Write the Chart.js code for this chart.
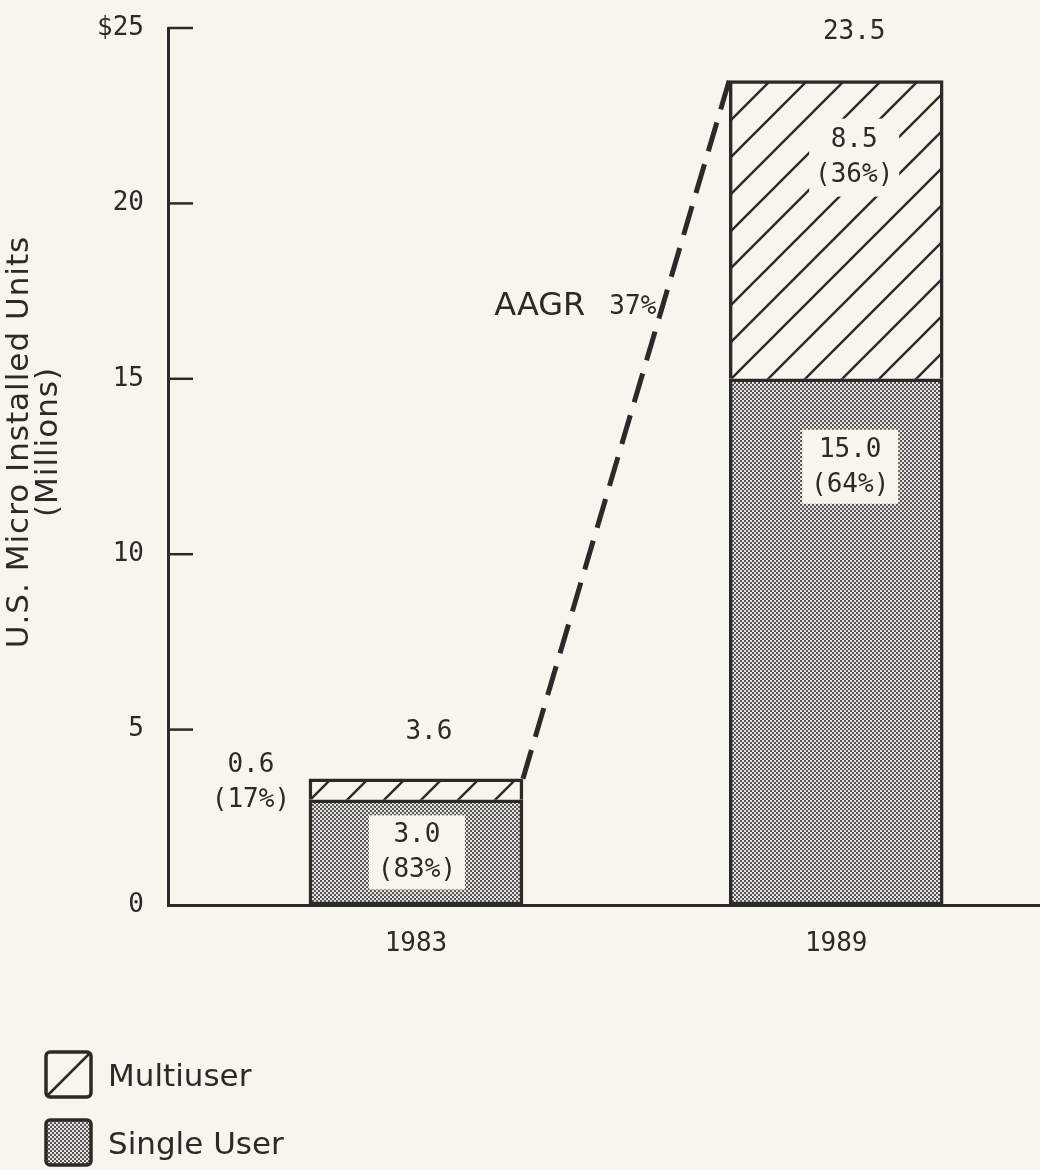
<!DOCTYPE html>
<html>
<head>
<meta charset="utf-8">
<script src="https://cdn.jsdelivr.net/npm/chart.js@4/dist/chart.umd.min.js"></script>
<style>
  html, body { margin: 0; padding: 0; background: #f8f5ec; }
  canvas { display: block; }
</style>
</head>
<body>
<canvas id="grafico" width="1040" height="1170"></canvas>
<script>
const years = [1983, 1989];
const singleUser = [3.0, 15.0];
const multiUser = [0.6, 8.5];
const totals = ['3.6', '23.5'];
const singleShare = ['(83%)', '(64%)'];
const multiShare = ['(17%)', '(36%)'];
const yTicks = [0, 5, 10, 15, 20, 25];
const growthWord = 'AAGR';
const growthRate = '37%';

const ink = '#2a2a2a';
const paper = '#f8f5ec';
const mono = '"DejaVu Sans Mono", monospace';
const sans = '"DejaVu Sans", sans-serif';

let canvas = document.getElementById('grafico');
let ctx = canvas.getContext('2d');

// diagonal hatch for multiuser
function makeHatch() {
  const c = document.createElement('canvas');
  c.width = 37; c.height = 37;
  const g = c.getContext('2d');
  g.fillStyle = paper;
  g.fillRect(0, 0, 37, 37);
  g.strokeStyle = ink;
  g.lineWidth = 2.4;
  g.beginPath();
  g.moveTo(-5, 42); g.lineTo(42, -5);
  g.moveTo(-5, 5); g.lineTo(5, -5);
  g.moveTo(32, 42); g.lineTo(42, 32);
  g.stroke();
  return ctx.createPattern(c, 'repeat');
}

// fine stipple for single user
function makeStipple() {
  const c = document.createElement('canvas');
  c.width = 4; c.height = 4;
  const g = c.getContext('2d');
  g.fillStyle = '#e8e5de';
  g.fillRect(0, 0, 4, 4);
  g.fillStyle = '#555555';
  g.fillRect(0, 0, 2, 2);
  g.fillRect(2, 2, 2, 2);
  return ctx.createPattern(c, 'repeat');
}

const hatch = makeHatch();
const stipple = makeStipple();

function labelBox(c, cx, cy, lines, w, h, fill) {
  if (fill) {
    c.fillStyle = paper;
    c.fillRect(cx - w / 2, cy - h / 2, w, h);
  }
  c.fillStyle = ink;
  c.textAlign = 'center';
  c.textBaseline = 'middle';
  c.font = '26px ' + mono;
  c.fillText(lines[0], cx, cy - 17);
  c.fillText(lines[1], cx, cy + 18);
}

const extras = {
  id: 'extras',
  afterDatasetsDraw(chart) {
    const c = chart.ctx;
    const yS = chart.scales.y;
    const area = chart.chartArea;
    const single = chart.getDatasetMeta(0).data;
    const multi = chart.getDatasetMeta(1).data;
    c.save();

    // y tick marks on the inner side of the axis
    c.strokeStyle = ink;
    c.lineWidth = 2.5;
    yTicks.forEach(v => {
      if (v === 0) return;
      const y = yS.getPixelForValue(v);
      c.beginPath();
      c.moveTo(area.left, y);
      c.lineTo(area.left + 25, y);
      c.stroke();
    });

    // dashed growth line between bar tops, dashes touching both ends
    const a = multi[0], b = multi[1];
    const x0 = a.x + a.width / 2, y0 = a.y;
    const x1 = b.x - b.width / 2, y1 = b.y;
    const len = Math.hypot(x1 - x0, y1 - y0);
    const dash = 30;
    const n = Math.round((len - dash) / 43);
    c.setLineDash([dash, (len - dash) / n - dash]);
    c.lineWidth = 5;
    c.beginPath();
    c.moveTo(x0, y0);
    c.lineTo(x1, y1);
    c.stroke();
    c.setLineDash([]);

    // AAGR label beside the line
    const ty = 307;
    const tx = x0 + (x1 - x0) * (y0 - ty) / (y0 - y1);
    c.fillStyle = ink;
    c.textBaseline = 'middle';
    c.textAlign = 'right';
    c.font = '26px ' + mono;
    c.fillText(growthRate, tx - 6, ty);
    const rw = c.measureText(growthRate).width;
    c.font = '32px ' + sans;
    c.fillText(growthWord, tx - 6 - rw - 24, ty);

    // single user labels in boxes
    single.forEach((bar, i) => {
      const top = bar.y, bottom = bar.base;
      const cy = Math.min((top + bottom) / 2, top + 88);
      const cx = bar.x + (i === 0 ? 1 : 14);
      labelBox(c, cx, cy, [singleUser[i].toFixed(1), singleShare[i]], 96, 74, true);
    });

    // multiuser labels
    const m0 = multi[0];
    labelBox(c, m0.x - m0.width / 2 - 58, m0.y + 4, [multiUser[0].toFixed(1), multiShare[0]], 0, 0, false);
    const m1 = multi[1];
    labelBox(c, m1.x + 18, m1.y + 77, [multiUser[1].toFixed(1), multiShare[1]], 90, 78, true);

    // totals above bars
    c.font = '26px ' + mono;
    c.textAlign = 'center';
    c.fillText(totals[0], m0.x + 13, m0.y - 46);
    c.fillText(totals[1], m1.x + 18, m1.y - 48);

    // axis title
    c.save();
    c.translate(20, 442);
    c.rotate(-Math.PI / 2);
    c.font = '31px ' + sans;
    c.letterSpacing = '1px';
    c.textAlign = 'center';
    c.fillText('U.S. Micro Installed Units', 0, 0);
    c.fillText('(Millions)', 0, 29);
    c.restore();

    // legend
    const items = [
      { y: 1052, fill: paper, text: 'Multiuser', diag: true },
      { y: 1120, fill: stipple, text: 'Single User', diag: false }
    ];
    items.forEach(it => {
      c.fillStyle = it.fill;
      c.strokeStyle = ink;
      c.lineWidth = 3.5;
      c.beginPath();
      c.roundRect(46, it.y, 45, 45, 4);
      c.fill();
      c.stroke();
      if (it.diag) {
        c.lineWidth = 2.5;
        c.beginPath();
        c.moveTo(48, it.y + 43);
        c.lineTo(89, it.y + 2);
        c.stroke();
      }
      c.fillStyle = ink;
      c.font = '31px ' + sans;
      c.textAlign = 'left';
      c.textBaseline = 'middle';
      c.fillText(it.text, 108, it.y + 26);
    });

    c.restore();
  }
};

const data = {
  datasets: [{
    label: 'Single User',
    data: years.map((yr, i) => ({ x: yr, y: singleUser[i] })),
    backgroundColor: stipple,
    borderColor: ink,
    borderWidth: 3.5,
    borderSkipped: false,
    barThickness: 214
  }, {
    label: 'Multiuser',
    data: years.map((yr, i) => ({ x: yr, y: multiUser[i] })),
    backgroundColor: hatch,
    borderColor: ink,
    borderWidth: 3.5,
    borderSkipped: 'bottom',
    barThickness: 214
  }]
};

const config = {
  type: 'bar',
  data,
  options: {
    responsive: false,
    animation: false,
    devicePixelRatio: 1,
    layout: { padding: { top: 28, left: 0, right: 0, bottom: 0 } },
    plugins: { legend: { display: false }, tooltip: { enabled: false } },
    scales: {
      x: {
        type: 'linear',
        stacked: true,
        offset: false,
        min: 1979.46,
        max: 1991.91,
        afterBuildTicks: s => { s.ticks = years.map(v => ({ value: v })); },
        afterFit: s => { s.height = 265; s.paddingLeft = 0; s.paddingRight = 0; },
        grid: { display: false, drawTicks: false, offset: false },
        border: { display: true, color: ink, width: 3 },
        ticks: {
          callback: v => String(v),
          color: ink,
          font: { family: mono, size: 26 },
          padding: 24,
          autoSkip: false,
          maxRotation: 0
        }
      },
      y: {
        stacked: true,
        min: 0,
        max: 25,
        afterBuildTicks: s => { s.ticks = yTicks.map(v => ({ value: v })); },
        afterFit: s => { s.width = 168; s.paddingTop = 0; s.paddingBottom = 0; },
        grid: { display: false, drawTicks: false },
        border: { display: true, color: ink, width: 3 },
        ticks: {
          callback: v => (v === 25 ? '$' + v : String(v)),
          color: ink,
          font: { family: mono, size: 26 },
          padding: 24
        }
      }
    }
  },
  plugins: [extras]
};

new Chart(ctx, config);
</script>
</body>
</html>
